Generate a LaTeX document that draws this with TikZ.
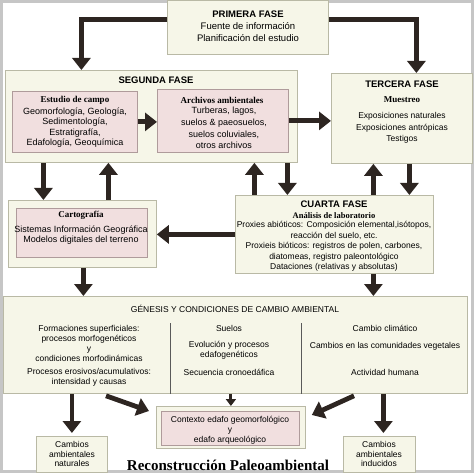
\documentclass[tikz,border=0pt]{standalone}
\usepackage{fontspec}
\setmainfont{Liberation Serif}
\setsansfont{Liberation Sans}
\usetikzlibrary{arrows.meta}

\definecolor{crema}{RGB}{246,246,232}
\definecolor{borde}{RGB}{185,185,165}
\definecolor{rosa}{RGB}{241,223,223}
\definecolor{rosaborde}{RGB}{175,155,155}
\definecolor{flechas}{RGB}{45,37,33}

\begin{document}
\begin{tikzpicture}[x=1pt, y=-1pt,
    fase/.style={draw=borde, fill=crema, line width=0.8pt, inner sep=0pt, anchor=north west},
    interior/.style={draw=rosaborde, fill=rosa, line width=0.8pt, inner sep=0pt, anchor=north west},
    txt/.style={font=\sffamily\fontsize{9}{10.5}\selectfont, align=center, inner sep=0pt},
    chico/.style={font=\sffamily\fontsize{8.5}{10.4}\selectfont, align=center, inner sep=0pt},
    titulo/.style={font=\sffamily\bfseries\fontsize{9.5}{11}\selectfont, inner sep=0pt},
    subtitulo/.style={font=\bfseries\fontsize{9}{11}\selectfont, inner sep=0pt},
    flecha/.style={draw=flechas, line width=4.8pt, -{Triangle[width=18pt,length=12pt]}},
    flechita/.style={draw=flechas, line width=3pt, -{Triangle[width=10pt,length=7pt]}}]
    \useasboundingbox (0,0) rectangle (474,473);
    \draw[gray!45, line width=3pt] (1.5,1.5) rectangle (472.5,471.5);

    % cajas
    \node[fase, minimum width=161pt, minimum height=54pt] (primera) at (167,0) {};
    \node[fase, minimum width=292pt, minimum height=92pt] (segunda) at (5,70) {};
    \node[interior, minimum width=125pt, minimum height=61pt] (campo) at (12,91) {};
    \node[interior, minimum width=131pt, minimum height=63pt] (archivos) at (157,89) {};
    \node[fase, minimum width=141pt, minimum height=90pt] (tercera) at (331,73) {};
    \node[fase, minimum width=148pt, minimum height=67pt] (carto) at (8,200) {};
    \node[interior, minimum width=131pt, minimum height=49pt] (cartoin) at (16,208) {};
    \node[fase, minimum width=198pt, minimum height=78pt] (cuarta) at (235,195) {};
    \node[fase, minimum width=464pt, minimum height=97pt] (genesis) at (3,296) {};
    \node[fase, minimum width=149pt, minimum height=42pt] (contexto) at (156,406) {};
    \node[interior, minimum width=138pt, minimum height=34pt] (contextoin) at (161,411) {};
    \node[fase, minimum width=71pt, minimum height=36pt] (natural) at (36,436) {};
    \node[fase, minimum width=72pt, minimum height=36pt] (inducido) at (343,436) {};

    % textos
    \node[titulo] (tprimera) at (248,14) {PRIMERA FASE};
    \node[txt, font=\sffamily\fontsize{9.5}{12}\selectfont] (lprimera) at (248,32) {Fuente de información\\Planificación del estudio};
    \node[titulo] (tsegunda) at (156,80) {SEGUNDA FASE};
    \node[subtitulo] (tcampo) at (75,100) {Estudio de campo};
    \node[txt] (lcampo) at (75,127.5) {Geomorfología, Geología,\\Sedimentología,\\Estratigrafía,\\Edafología, Geoquímica};
    \node[subtitulo] (tarchivos) at (222,100) {Archivos ambientales};
    \node[txt, font=\sffamily\fontsize{9}{11.7}\selectfont] (larchivos) at (224,128) {Turberas, lagos,\\suelos \& paeosuelos,\\suelos coluviales,\\otros archivos};
    \node[titulo] (ttercera) at (402,84) {TERCERA FASE};
    \node[subtitulo] (tmuestreo) at (402,100) {Muestreo};
    \node[txt, font=\sffamily\fontsize{8.5}{11.5}\selectfont] (ltercera) at (402,128) {Exposiciones naturales\\Exposiciones antrópicas\\Testigos};
    \node[subtitulo] (tcarto) at (81,215) {Cartografía};
    \node[txt] (lcarto) at (81,235) {Sistemas Información Geográfica\\Modelos digitales del terreno};
    \node[titulo] (tcuarta) at (334,204) {CUARTA FASE};
    \node[subtitulo, font=\bfseries\fontsize{8.5}{10}\selectfont] (tanalisis) at (334,216) {Análisis de laboratorio};
    \node[chico] (lcuarta) at (334,246.5) {Proxies abióticos: Composición elemental,isótopos,\\reacción del suelo, etc.\\Proxieis bióticos: registros de polen, carbones,\\diatomeas, registro paleontológico\\Dataciones (relativas y absolutas)};
    \node[txt, font=\sffamily\fontsize{8.5}{10}\selectfont] (tgenesis) at (235,309) {GÉNESIS Y CONDICIONES DE CAMBIO AMBIENTAL};
    \node[txt, font=\sffamily\fontsize{8.5}{10}\selectfont] (formaciones) at (89,343) {Formaciones superficiales:\\procesos morfogenéticos\\y\\condiciones morfodinámicas};
    \node[txt, font=\sffamily\fontsize{8.5}{10}\selectfont] (procesos) at (89,377) {Procesos erosivos/acumulativos:\\intensidad y causas};
    \node[txt, font=\sffamily\fontsize{8.5}{10}\selectfont] (suelos) at (229,328) {Suelos};
    \node[txt, font=\sffamily\fontsize{8.5}{10}\selectfont] (evolucion) at (229,350.5) {Evolución y procesos\\edafogenéticos};
    \node[txt, font=\sffamily\fontsize{8.5}{10}\selectfont] (secuencia) at (229,372) {Secuencia cronoedáfica};
    \node[txt, font=\sffamily\fontsize{8.5}{10}\selectfont] (clima) at (385,328) {Cambio climático};
    \node[txt, font=\sffamily\fontsize{8.5}{10}\selectfont] (vegetales) at (385,346) {Cambios en las comunidades vegetales};
    \node[txt, font=\sffamily\fontsize{8.5}{10}\selectfont] (humana) at (385,372) {Actividad humana};
    \node[txt, font=\sffamily\fontsize{8.5}{10}\selectfont] (lcontexto) at (230,430) {Contexto edafo geomorfológico\\y\\edafo arqueológico};
    \node[txt, font=\sffamily\fontsize{8.5}{9.5}\selectfont] (lnatural) at (72,454) {Cambios\\ambientales\\naturales};
    \node[txt, font=\sffamily\fontsize{8.5}{9.5}\selectfont] (linducido) at (379,454) {Cambios\\ambientales\\inducidos};
    \node[font=\bfseries\fontsize{15}{17}\selectfont, inner sep=0pt] (reconstruccion) at (228,465) {Reconstrucción Paleoambiental};

    % separadores
    \draw[gray!70!black, line width=0.8pt] ([xshift=167pt]genesis.north west) ++(0,27) -- ([xshift=167pt]genesis.south west);
    \draw[gray!70!black, line width=0.8pt] ([xshift=298pt]genesis.north west) ++(0,27) -- ([xshift=298pt]genesis.south west);

    % flechas
    \draw[flecha] ([yshift=8pt]primera.west) -| ([xshift=-70pt]segunda.north);
    \draw[flecha] ([yshift=8pt]primera.east) -| ([xshift=14.5pt]tercera.north);
    \draw[flecha] (campo.east) -- (campo.east -| archivos.west);
    \draw[flecha] (archivos.east) -- (archivos.east -| tercera.west);
    \draw[flecha] ([xshift=-108pt]segunda.south) -- ([xshift=-108pt]segunda.south |- carto.north);
    \draw[flecha] ([xshift=26pt]carto.north) -- ([xshift=26pt]carto.north |- segunda.south);
    \draw[flecha] ([xshift=-80pt]cuarta.north) -- ([xshift=-80pt]cuarta.north |- segunda.south);
    \draw[flecha] ([xshift=136pt]segunda.south) -- ([xshift=136pt]segunda.south |- cuarta.north);
    \draw[flecha] ([xshift=39pt]cuarta.north) -- ([xshift=39pt]cuarta.north |- tercera.south);
    \draw[flecha] ([xshift=7.5pt]tercera.south) -- ([xshift=7.5pt]tercera.south |- cuarta.north);
    \draw[flecha] (cuarta.west) -- (cuarta.west -| carto.east);
    \draw[flecha] ([xshift=1pt]carto.south) -- ([xshift=1pt]carto.south |- genesis.north);
    \draw[flecha] ([xshift=39pt]cuarta.south) -- ([xshift=39pt]cuarta.south |- genesis.north);
    \draw[flecha, shorten >=3pt] (natural.north |- genesis.south) -- (natural.north);
    \draw[flecha, shorten >=3pt] ([xshift=4pt]inducido.north |- genesis.south) -- ([xshift=4pt]inducido.north);
    \draw[flechita] (contexto.north |- genesis.south) -- (contexto.north);
    \draw[flecha] ([shift={(103pt,-2pt)}]genesis.south west) -- ([shift={(-7pt,-5pt)}]contexto.north west);
    \draw[flecha] ([shift={(351pt,-2pt)}]genesis.south west) -- ([shift={(6pt,-9pt)}]contexto.north east);
\end{tikzpicture}
\end{document}
